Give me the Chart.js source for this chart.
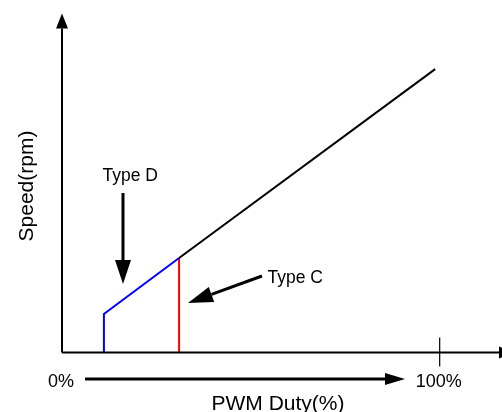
<!DOCTYPE html>
<html>
<head>
<meta charset="utf-8">
<script src="https://cdn.jsdelivr.net/npm/chart.js@4"></script>
<style>
  html, body { margin: 0; padding: 0; background: #fff; }
  canvas { display: block; }
</style>
</head>
<body>
<canvas id="mychart" width="502" height="412"></canvas>
<script>
// PWM duty (%) vs speed (arbitrary units, 0..100 of the axis height)
var dutyBlue = [11.1, 11.1, 31.0];
var speedBlue = [0, 11.4, 27.9];
var dutyRed = [31.0, 31.0];
var speedRed = [0, 27.9];
var dutyBlack = [31.0, 98.8];
var speedBlack = [27.9, 83.7];

var tickValues = [0, 100];
var tickLabels = ['0%', '100%'];
var xTitle = 'PWM Duty(%)';
var yTitle = 'Speed(rpm)';
var noteD = 'Type D';
var noteC = 'Type C';

function pts(xs, ys) {
  var out = [];
  for (var i = 0; i < xs.length; i++) out.push({x: xs[i], y: ys[i]});
  return out;
}

function arrow(ctx, x1, y1, x2, y2, headLen, headW, lw) {
  var a = Math.atan2(y2 - y1, x2 - x1);
  var bx = x2 - Math.cos(a) * headLen, by = y2 - Math.sin(a) * headLen;
  ctx.lineWidth = lw;
  ctx.beginPath();
  ctx.moveTo(x1, y1);
  ctx.lineTo(bx, by);
  ctx.stroke();
  ctx.beginPath();
  ctx.moveTo(x2, y2);
  ctx.lineTo(bx + Math.sin(a) * headW / 2, by - Math.cos(a) * headW / 2);
  ctx.lineTo(bx - Math.sin(a) * headW / 2, by + Math.cos(a) * headW / 2);
  ctx.closePath();
  ctx.fill();
}

var decor = {
  id: 'decor',
  afterDatasetsDraw: function(chart) {
    var ctx = chart.ctx;
    var area = chart.chartArea;
    var xs = chart.scales.x;
    ctx.save();
    ctx.strokeStyle = '#000';
    ctx.fillStyle = '#000';

    // axes
    arrow(ctx, area.left, area.bottom, area.left, area.top - 0.5, 15, 12, 2);
    arrow(ctx, area.left, area.bottom, area.right + 12, area.bottom, 15, 12, 2);

    // tick at 100%
    var x100 = xs.getPixelForValue(tickValues[1]);
    ctx.lineWidth = 1.2;
    ctx.beginPath();
    ctx.moveTo(x100, area.bottom - 15);
    ctx.lineTo(x100, area.bottom + 14);
    ctx.stroke();

    ctx.font = '18px "Liberation Sans", Arial, sans-serif';
    ctx.textAlign = 'center';
    ctx.textBaseline = 'alphabetic';
    for (var i = 0; i < tickValues.length; i++) {
      ctx.fillText(tickLabels[i], xs.getPixelForValue(tickValues[i]) - 1, area.bottom + 34.5);
    }

    // duty direction arrow
    arrow(ctx, 85, 379, 405, 379, 20, 12, 3);

    // axis titles
    ctx.font = '21px "Liberation Sans", Arial, sans-serif';
    ctx.fillText(xTitle, 278, 410);
    ctx.save();
    ctx.translate(32.5, 186);
    ctx.rotate(-Math.PI / 2);
    ctx.fillText(yTitle, 0, 0);
    ctx.restore();

    // notes
    ctx.font = '17.5px "Liberation Sans", Arial, sans-serif';
    ctx.textAlign = 'left';
    ctx.fillText(noteD, 102.5, 181);
    ctx.fillText(noteC, 267.5, 283);
    arrow(ctx, 123, 193, 123, 284, 24, 16, 3);
    arrow(ctx, 262, 276, 188, 303, 25, 16, 3);
    ctx.restore();
  }
};

var mychart = document.getElementById('mychart').getContext('2d');
var chart = new Chart(mychart, {
  type: 'scatter',
  data: {
    datasets: [
      { data: pts(dutyBlack, speedBlack), borderColor: '#000000', borderWidth: 2, showLine: true, pointRadius: 0 },
      { data: pts(dutyBlue, speedBlue), borderColor: '#0000ff', borderWidth: 2, showLine: true, pointRadius: 0 },
      { data: pts(dutyRed, speedRed), borderColor: '#ff0000', borderWidth: 2, showLine: true, pointRadius: 0 }
    ]
  },
  options: {
    responsive: false,
    animation: false,
    devicePixelRatio: 1,
    layout: { padding: { left: 62, right: 0, top: 14, bottom: 59.5 } },
    plugins: { legend: { display: false }, tooltip: { enabled: false } },
    scales: {
      x: { type: 'linear', min: 0, max: 116.5, display: false },
      y: { type: 'linear', min: 0, max: 100, display: false }
    }
  },
  plugins: [decor]
});
</script>
</body>
</html>
